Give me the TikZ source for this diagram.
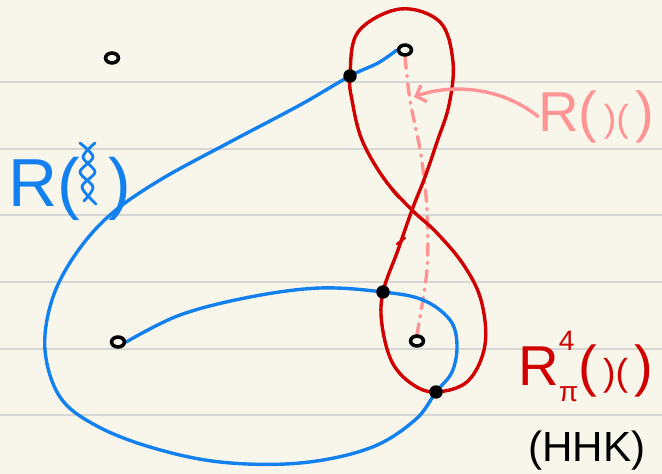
\documentclass[tikz,border=0pt]{standalone}
\usepackage{fontspec}
\setmainfont{Liberation Sans}
\usetikzlibrary{arrows.meta,positioning,shapes.geometric}
\definecolor{sketchpaper}{RGB}{248,246,235}
\definecolor{sketchrule}{RGB}{214,214,211}
\definecolor{sketchblue}{RGB}{18,128,238}
\definecolor{sketchred}{RGB}{208,0,0}
\definecolor{sketchpink}{RGB}{255,148,148}
\pgfdeclarelayer{paper}
\pgfdeclarelayer{strands}
\pgfsetlayers{paper,strands,main}

\begin{document}
\begin{tikzpicture}[
  x=0.03cm,y=-0.03cm,
  puncture/.style={ellipse,draw=black,line width=3pt,minimum width=11pt,minimum height=8.5pt,inner sep=0pt},
  crossdot/.style={circle,fill=black,minimum size=11.5pt,inner sep=0pt},
  bluestrand/.style={draw=sketchblue,line width=2.9pt,line cap=round,line join=round},
  redstrand/.style={draw=sketchred,line width=2.9pt,line cap=round,line join=round},
  hintline/.style={draw=sketchpink,line width=2.9pt,line cap=round,dash pattern=on 10pt off 6pt on 1pt off 6pt},
  hintarrow/.style={draw=sketchpink,line width=2.9pt,line cap=round,-{Straight Barb[length=7pt,width=15pt]}},
  ruling/.style={draw=sketchrule,line width=1.2pt},
  handtext/.style={inner sep=0pt,font=\fontsize{48}{52}\selectfont}]
  \useasboundingbox (0,0) rectangle (662,474);
  \begin{pgfonlayer}{paper}
    \fill[sketchpaper] (0,0) rectangle (662,474);
    \foreach \y in {82,149,215,282,349,415}
      \draw[ruling] (0,\y) -- (662,\y);
  \end{pgfonlayer}

  \node[puncture] (p1) at (112,58) {};
  \node[puncture] (p2) at (405,50) {};
  \node[puncture] (p3) at (118,342) {};
  \node[puncture] (p4) at (417,341) {};
  \node[crossdot] (d1) at (350,76) {};
  \node[crossdot] (d2) at (383,292) {};
  \node[crossdot] (d3) at (436,392) {};

  \begin{pgfonlayer}{strands}
    \draw[hintline] plot[smooth] coordinates {(p2.south) (410,100) (421,155) (427,210) (427,270) (p4.north)};
    \draw[redstrand] plot[smooth cycle,tension=0.6] coordinates {(400,9) (440,22) (453,62) (449,105) (437,142) (425,177) (412,210) (398,250) (d2) (382,325) (392,362) (412,384) (d3) (468,381) (485,345) (481,300) (463,264) (436,232) (412,210) (385,180) (362,140) (352,100) (d1) (358,32)};
    \draw[redstrand,line width=2pt] (392,190) -- (399,198);
    \draw[redstrand,line width=2pt] (397,244) -- (405,238);
    \draw[bluestrand] plot[smooth,tension=0.6] coordinates {(p3.east) (180,315) (250,297) (320,288) (d2) (423,300) (450,320) (457,345) (452,372) (d3) (415,420) (370,448) (300,463) (220,462) (150,447) (95,425) (60,397) (45,350) (52,300) (75,255) (110,215) (160,180) (230,142) (300,105) (d1) (378,63) (p2.west)};
  \end{pgfonlayer}

  \node[handtext,text=sketchblue,anchor=base west,font=\fontsize{58}{62}\selectfont] (rbraid) at (8,206) {R(\hspace{0.42em})};
  \draw[bluestrand,line width=2.4pt] plot[smooth] coordinates {(80,143) (93,157) (80,172) (93,187) (84,201)};
  \draw[bluestrand,line width=2.4pt] plot[smooth] coordinates {(95,143) (83,157) (95,172) (82,187) (96,204)};

  \node[handtext,text=sketchpink,anchor=base west] (rpink) at (538,131) {R({\fontsize{32}{32}\selectfont\,)(\,})};
  \coordinate (hinttip) at (414,97);
  \draw[hintarrow] (rpink.west) .. controls (500,86) and (450,84) .. (hinttip);

  \node[handtext,text=sketchred,anchor=base west] (rred) at (518,385) {R\rlap{\raisebox{0.62em}{\fontsize{24}{24}\selectfont 4}}\raisebox{-0.3em}{\fontsize{24}{24}\selectfont π}({\fontsize{32}{32}\selectfont\,)(\,})};
  \node[handtext,text=black,anchor=base west,font=\fontsize{36}{40}\selectfont] (nhk) at (528,461) {(HHK)};
\end{tikzpicture}
\end{document}
